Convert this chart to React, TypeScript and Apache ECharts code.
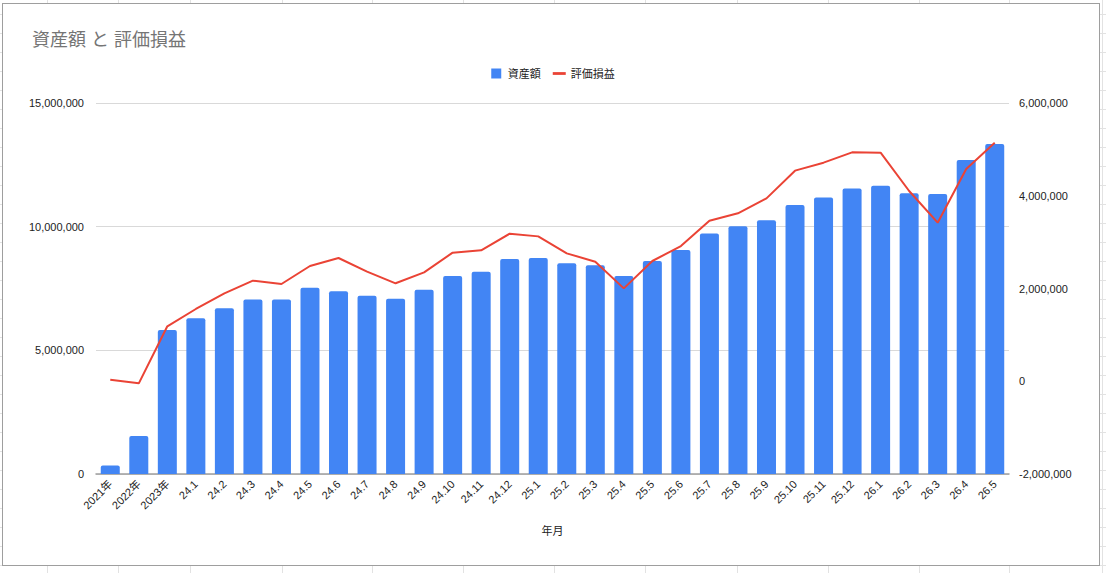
import React, { useEffect, useRef } from "react";
import * as echarts from "echarts";

const categories = [
  "2021年", "2022年", "2023年",
  "24.1", "24.2", "24.3", "24.4", "24.5", "24.6", "24.7", "24.8", "24.9", "24.10", "24.11", "24.12",
  "25.1", "25.2", "25.3", "25.4", "25.5", "25.6", "25.7", "25.8", "25.9", "25.10", "25.11", "25.12",
  "26.1", "26.2", "26.3", "26.4", "26.5",
];

const assets = [
  340000, 1540000, 5820000,
  6300000, 6700000, 7060000, 7060000, 7530000, 7390000, 7210000, 7090000, 7450000, 8010000, 8180000, 8690000,
  8730000, 8520000, 8440000, 8010000, 8610000, 9060000, 9720000, 10020000, 10260000, 10880000, 11180000, 11540000,
  11650000, 11350000, 11320000, 12700000, 13340000,
];

const pnl = [
  30000, -45000, 1185000,
  1558000, 1896000, 2169000, 2097000, 2485000, 2658000, 2363000, 2112000, 2348000, 2773000, 2823000, 3182000,
  3124000, 2758000, 2578000, 2003000, 2593000, 2916000, 3462000, 3621000, 3944000, 4541000, 4713000, 4936000,
  4929000, 4102000, 3419000, 4577000, 5144000,
];

const leftTicks = { min: 0, max: 15000000, interval: 5000000 };
const rightTicks = { min: -2000000, max: 6000000, interval: 2000000 };

const FONT = "'Liberation Sans', Arial, 'Noto Sans CJK JP', sans-serif";

const sheetCols = [47, 118, 190, 282, 372, 463, 554, 645, 737, 828, 919, 1009, 1102];
const sheetRows = Array.from({ length: 30 }, (_, k) => 13.5 + 19 * k);

const fmt = (v: number) => v.toLocaleString("en-US");

export default function App() {
  const ref = useRef<HTMLDivElement>(null);

  useEffect(() => {
    if (!ref.current) return;
    const chart = echarts.init(ref.current, undefined, { renderer: "svg" });
    chart.setOption({
      animation: false,
      textStyle: { fontFamily: FONT },
      title: {
        text: "資産額 と 評価損益",
        left: 32,
        top: 29,
        padding: 0,
        textStyle: {
          fontSize: 18,
          lineHeight: 22,
          fontWeight: "normal",
          color: "#757575",
          fontFamily: FONT,
        },
      },
      legend: {
        top: 68,
        left: "center",
        padding: 0,
        itemWidth: 13,
        itemHeight: 10,
        itemGap: 12,
        textStyle: { fontSize: 11, color: "#222", fontFamily: FONT },
        data: [
          { name: "資産額", icon: "path://M0,0h10v10h-10z" },
          { name: "評価損益", icon: "path://M0,0h14v3h-14z" },
        ],
      },
      grid: { left: 96, right: 97, top: 103, bottom: 99, containLabel: false },
      xAxis: {
        type: "category",
        data: categories,
        name: "年月",
        nameLocation: "middle",
        nameGap: 51,
        nameTextStyle: { fontSize: 11, color: "#222", fontFamily: FONT },
        axisLine: { show: true, lineStyle: { color: "#9e9e9e", width: 1.5 } },
        axisTick: { show: false },
        axisLabel: {
          rotate: 45,
          interval: 0,
          margin: 8,
          fontSize: 11,
          color: "#222",
          fontFamily: FONT,
        },
      },
      yAxis: [
        {
          type: "value",
          min: leftTicks.min,
          max: leftTicks.max,
          interval: leftTicks.interval,
          axisLine: { show: false },
          axisTick: { show: false },
          splitLine: { show: true, lineStyle: { color: "#d9d9d9", width: 1 } },
          axisLabel: {
            margin: 12,
            fontSize: 11,
            color: "#222",
            fontFamily: FONT,
            formatter: (v: number) => fmt(v),
          },
        },
        {
          type: "value",
          min: rightTicks.min,
          max: rightTicks.max,
          interval: rightTicks.interval,
          axisLine: { show: false },
          axisTick: { show: false },
          splitLine: { show: false },
          axisLabel: {
            margin: 10,
            fontSize: 11,
            color: "#222",
            fontFamily: FONT,
            formatter: (v: number) => fmt(v),
          },
        },
      ],
      series: [
        {
          name: "資産額",
          type: "bar",
          yAxisIndex: 0,
          data: assets,
          barWidth: 19,
          itemStyle: { color: "#4285F4", borderRadius: [2, 2, 0, 0] },
        },
        {
          name: "評価損益",
          type: "line",
          yAxisIndex: 1,
          data: pnl,
          showSymbol: false,
          symbol: "none",
          lineStyle: { color: "#EA4335", width: 2 },
          itemStyle: { color: "#EA4335" },
          z: 3,
        },
      ],
    });
    return () => chart.dispose();
  }, []);

  return (
    <div
      style={{
        position: "fixed",
        left: 0,
        top: 0,
        width: 1106,
        height: 573,
        background: "#fff",
        overflow: "hidden",
      }}
    >
      {sheetCols.map((x) => (
        <div
          key={"c" + x}
          style={{ position: "absolute", left: x, top: 0, width: 1, height: 573, background: "#e2e2e2" }}
        />
      ))}
      {sheetRows.map((y) => (
        <div
          key={"r" + y}
          style={{ position: "absolute", left: 0, top: Math.round(y), width: 1106, height: 1, background: "#e2e2e2" }}
        />
      ))}
      <div
        style={{
          position: "absolute",
          left: 2,
          top: 3,
          width: 1098,
          height: 563,
          boxSizing: "border-box",
          border: "1.5px solid #9e9e9e",
          background: "#fff",
        }}
      />
      <div ref={ref} style={{ position: "absolute", left: 0, top: 0, width: 1106, height: 573 }} />
    </div>
  );
}
